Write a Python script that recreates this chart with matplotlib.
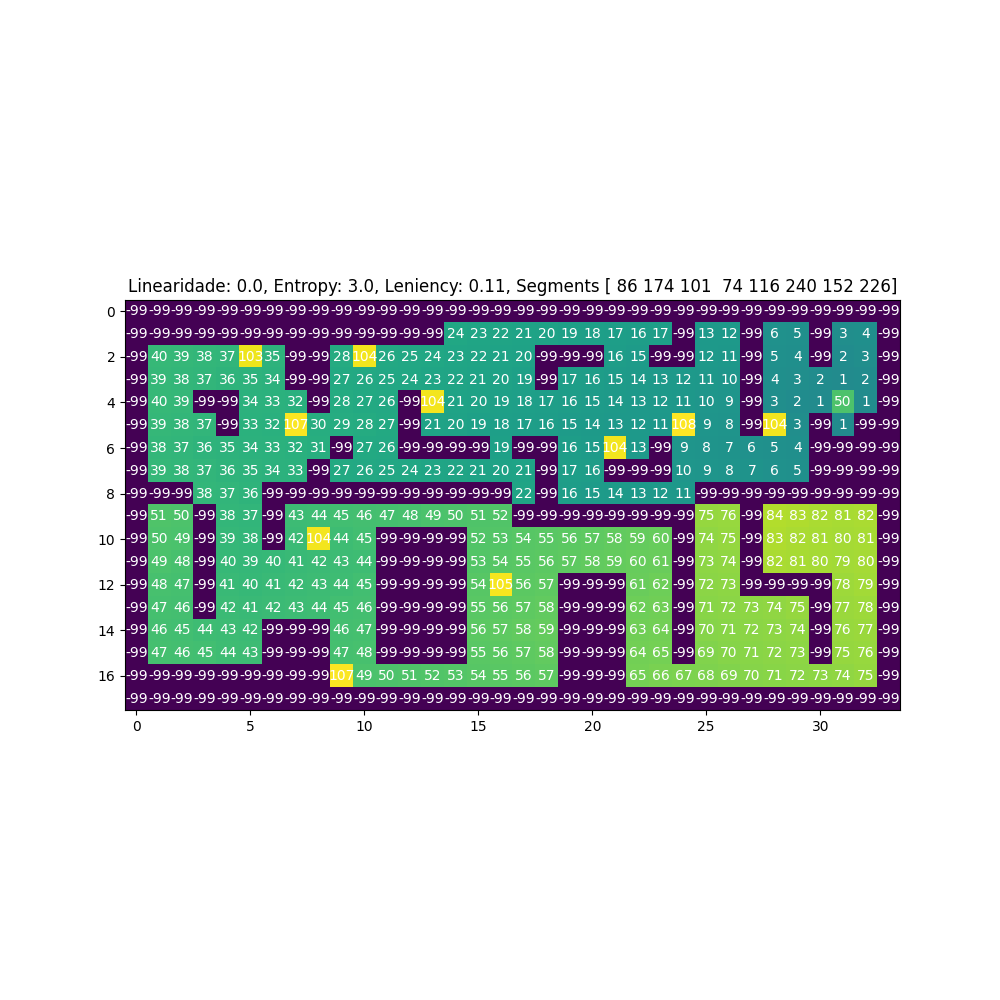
import numpy as np
import matplotlib
matplotlib.use("Agg")
import matplotlib.pyplot as plt

X = -99

row_0 = [X] * 34
row_1 = [X, X, X, X, X, X, X, X, X, X, X, X, X, X, 24, 23, 22, 21, 20, 19, 18, 17, 16, 17, X, 13, 12, X, 6, 5, X, 3, 4, X]
row_2 = [X, 40, 39, 38, 37, 103, 35, X, X, 28, 104, 26, 25, 24, 23, 22, 21, 20, X, X, X, 16, 15, X, X, 12, 11, X, 5, 4, X, 2, 3, X]
row_3 = [X, 39, 38, 37, 36, 35, 34, X, X, 27, 26, 25, 24, 23, 22, 21, 20, 19, X, 17, 16, 15, 14, 13, 12, 11, 10, X, 4, 3, 2, 1, 2, X]
row_4 = [X, 40, 39, X, X, 34, 33, 32, X, 28, 27, 26, X, 104, 21, 20, 19, 18, 17, 16, 15, 14, 13, 12, 11, 10, 9, X, 3, 2, 1, 50, 1, X]
row_5 = [X, 39, 38, 37, X, 33, 32, 107, 30, 29, 28, 27, X, 21, 20, 19, 18, 17, 16, 15, 14, 13, 12, 11, 108, 9, 8, X, 104, 3, X, 1, X, X]
row_6 = [X, 38, 37, 36, 35, 34, 33, 32, 31, X, 27, 26, X, X, X, X, 19, X, X, 16, 15, 104, 13, X, 9, 8, 7, 6, 5, 4, X, X, X, X]
row_7 = [X, 39, 38, 37, 36, 35, 34, 33, X, 27, 26, 25, 24, 23, 22, 21, 20, 21, X, 17, 16, X, X, X, 10, 9, 8, 7, 6, 5, X, X, X, X]
row_8 = [X, X, X, 38, 37, 36, X, X, X, X, X, X, X, X, X, X, X, 22, X, 16, 15, 14, 13, 12, 11, X, X, X, X, X, X, X, X, X]
row_9 = [X, 51, 50, X, 38, 37, X, 43, 44, 45, 46, 47, 48, 49, 50, 51, 52, X, X, X, X, X, X, X, X, 75, 76, X, 84, 83, 82, 81, 82, X]
row_10 = [X, 50, 49, X, 39, 38, X, 42, 104, 44, 45, X, X, X, X, 52, 53, 54, 55, 56, 57, 58, 59, 60, X, 74, 75, X, 83, 82, 81, 80, 81, X]
row_11 = [X, 49, 48, X, 40, 39, 40, 41, 42, 43, 44, X, X, X, X, 53, 54, 55, 56, 57, 58, 59, 60, 61, X, 73, 74, X, 82, 81, 80, 79, 80, X]
row_12 = [X, 48, 47, X, 41, 40, 41, 42, 43, 44, 45, X, X, X, X, 54, 105, 56, 57, X, X, X, 61, 62, X, 72, 73, X, X, X, X, 78, 79, X]
row_13 = [X, 47, 46, X, 42, 41, 42, 43, 44, 45, 46, X, X, X, X, 55, 56, 57, 58, X, X, X, 62, 63, X, 71, 72, 73, 74, 75, X, 77, 78, X]
row_14 = [X, 46, 45, 44, 43, 42, X, X, X, 46, 47, X, X, X, X, 56, 57, 58, 59, X, X, X, 63, 64, X, 70, 71, 72, 73, 74, X, 76, 77, X]
row_15 = [X, 47, 46, 45, 44, 43, X, X, X, 47, 48, X, X, X, X, 55, 56, 57, 58, X, X, X, 64, 65, X, 69, 70, 71, 72, 73, X, 75, 76, X]
row_16 = [X, X, X, X, X, X, X, X, X, 107, 49, 50, 51, 52, 53, 54, 55, 56, 57, X, X, X, 65, 66, 67, 68, 69, 70, 71, 72, 73, 74, 75, X]
row_17 = [X] * 34

segments = np.array([86, 174, 101, 74, 116, 240, 152, 226])

grid = np.array([row_0, row_1, row_2, row_3, row_4, row_5, row_6, row_7, row_8,
                 row_9, row_10, row_11, row_12, row_13, row_14, row_15, row_16, row_17])

fig, ax = plt.subplots(figsize=(10, 10), dpi=100)
ax.imshow(grid, cmap='viridis')

#write every cell value on top of the map
for i in range(grid.shape[0]):
    for j in range(grid.shape[1]):
        ax.text(j, i, grid[i, j], ha='center', va='center', color='w')

ax.set_title(f'Linearidade: 0.0, Entropy: 3.0, Leniency: 0.11, Segments {segments}')
plt.savefig('out.png')
